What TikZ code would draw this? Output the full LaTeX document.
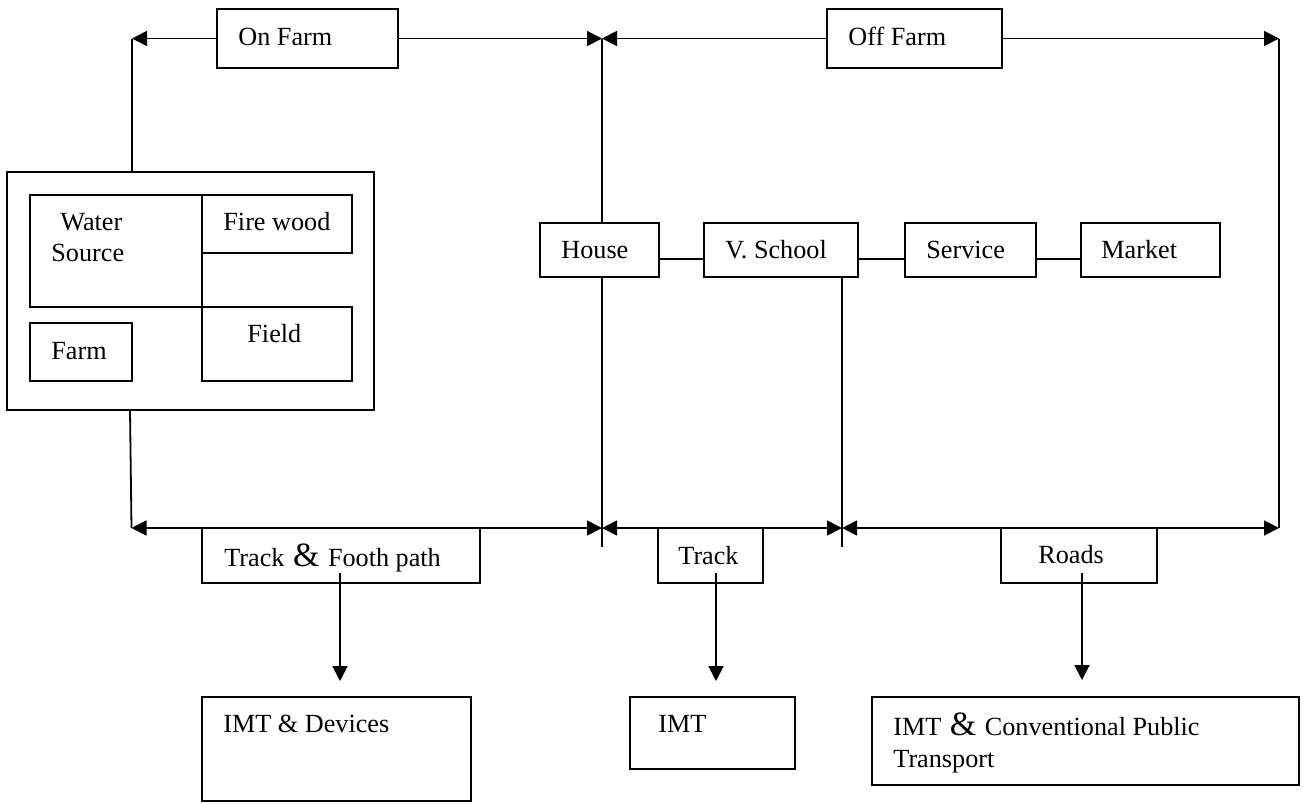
\documentclass[tikz,border=0pt]{standalone}
\usepackage{fontspec}
\setmainfont{Liberation Serif}
\usetikzlibrary{arrows.meta,calc}
\newcommand\BigAmp{{\fontsize{17}{17}\selectfont\ \&\ }}
\newcommand\bx[5]{\node[box, minimum width={(#4-#2)*0.5pt}, minimum height={(#5-#3)*0.5pt}] (#1) at ({(#2+#4)/2},{(#3+#5)/2}) {};}
\begin{document}
\begin{tikzpicture}[x=0.5pt,y=-0.5pt,
  box/.style={draw, line width=0.9pt, inner sep=0pt, outer sep=0pt, anchor=center},
  txt/.style={anchor=base west, inner sep=0pt, font=\fontsize{13.1}{15.5}\selectfont},
  ln/.style={line width=0.9pt},
  tip/.style={-{Triangle[length=7.5pt,width=7.5pt]}},
  tips/.style={{Triangle[length=7.5pt,width=7.5pt]}-{Triangle[length=7.5pt,width=7.5pt]}}]
\useasboundingbox (0,0) rectangle (1305,803);
% boxes
\bx{onfarm}{217}{9}{398}{68}
\bx{offfarm}{827}{9}{1002}{68}
\bx{outer}{7}{172}{374}{410}
\bx{water}{30}{195}{202}{307}
\bx{fire}{202}{195}{352}{253}
\bx{field}{202}{307}{352}{381}
\bx{farm}{30}{323}{132}{381}
\bx{house}{540}{223}{659}{277}
\bx{vschool}{704}{223}{858}{277}
\bx{service}{905}{223}{1036}{277}
\bx{market}{1081}{223}{1220}{277}
\bx{tfp}{202}{528}{480}{583}
\bx{track}{658}{528}{763}{583}
\bx{roads}{1001}{528}{1157}{583}
\bx{imtd}{202}{697}{471}{801}
\bx{imt}{630}{697}{795}{769}
\bx{imtc}{872}{697}{1299}{785}
% coordinates
\coordinate (tl) at (132,38.5);
\coordinate (tm) at (602,38.5);
\coordinate (tr) at (1279,38.5);
\coordinate (bl) at (131.5,528);
\coordinate (bm) at (602,528);
\coordinate (bs) at (842,528);
\coordinate (br) at (1279,528);
\coordinate (mend) at (602,547);
\coordinate (send) at (842,547);
\coordinate (a1) at (340,681);
\coordinate (a2) at (716,681);
\coordinate (a3) at (1082,680);
% top connectors
\draw[ln,tip] (onfarm.west) -- (tl);
\draw[ln] (tl) -- (tl |- outer.north);
\draw[ln,tip] (onfarm.east) -- (tm);
\draw[ln,tip] (offfarm.west) -- (tm);
\draw[ln,tip] (offfarm.east) -- (tr);
\draw[ln] (tm) -- (tm |- house.north);
\draw[ln] (tm |- house.south) -- (mend);
\draw[ln] (tr) -- (br);
% middle links
\draw[ln] ($(house.east)+(0,9)$) -- ($(vschool.west)+(0,9)$);
\draw[ln] ($(vschool.east)+(0,9)$) -- ($(service.west)+(0,9)$);
\draw[ln] ($(service.east)+(0,9)$) -- ($(market.west)+(0,9)$);
\draw[ln] (vschool.south -| send) -- (send);
\draw[ln] ($(outer.south -| bl)+(-1.5,0)$) -- (bl);
% bottom line
\draw[ln,tips] (bl) -- (bm);
\draw[ln,tips] (bm) -- (bs);
\draw[ln,tips] (bs) -- (br);
% down arrows
\draw[ln,tip] ($(tfp.south -| a1)+(0,-10)$) -- (a1);
\draw[ln,tip] ($(track.south -| a2)+(0,-10)$) -- (a2);
\draw[ln,tip] ($(roads.south -| a3)+(0,-10)$) -- (a3);
% texts
\node[txt] (tonfarm) at (238,45) {On Farm};
\node[txt] (toff) at (848,45) {Off Farm};
\node[txt] (twater1) at (60,230) {Water};
\node[txt] (twater2) at (51,261) {Source};
\node[txt] (tfire) at (223,230) {Fire wood};
\node[txt] (tfield) at (247,342) {Field};
\node[txt] (tfarm) at (51,359) {Farm};
\node[txt] (thouse) at (561,258) {House};
\node[txt] (tvs) at (725,258) {V. School};
\node[txt] (tserv) at (926,258) {Service};
\node[txt] (tmark) at (1101,258) {Market};
\node[txt] (ttfp) at (224,566) {Track\BigAmp Footh path};
\node[txt] (ttrack) at (678,564) {Track};
\node[txt] (troads) at (1038,563) {Roads};
\node[txt] (timtd) at (223,732) {IMT \& Devices};
\node[txt] (timt) at (658,732) {IMT};
\node[txt] (timtc1) at (893,735) {IMT\BigAmp Conventional Public};
\node[txt] (timtc2) at (893,767) {Transport};
\end{tikzpicture}
\end{document}
